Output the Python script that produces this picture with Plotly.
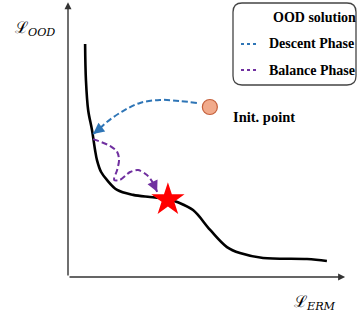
import plotly.graph_objects as go

# ---------------- data (schematic units: axes origin = (0,0), axis tips ~ (100, 101)) -------------
curve_x = [6.2, 6.5, 7.3, 8.7, 9.8, 10.5, 12.0, 14.1, 17.8, 23.6, 29.7, 36.2, 39.5, 45.3, 51.5, 57.6, 62.3, 70.7, 86.6, 93.8]
curve_y = [85.7, 72.4, 61.4, 54.0, 46.7, 43.0, 38.6, 35.7, 32.0, 30.2, 29.4, 28.7, 27.6, 24.6, 17.3, 11.0, 8.8, 7.0, 6.6, 5.9]

descent_x = [46.7, 40.6, 33.3, 26.1, 19.9, 14.1, 10.5, 9.1]
descent_y = [64.0, 64.7, 65.1, 64.0, 61.0, 57.0, 53.7, 52.6]

balance_x = [9.1, 15.2, 17.8, 18.5, 17.8, 16.7, 18.8, 22.5, 25.4, 28.6, 30.8, 32.3]
balance_y = [50.7, 48.2, 46.0, 43.0, 39.3, 35.7, 35.7, 38.6, 39.3, 37.5, 34.6, 31.3]

solution_x = [36.2]
solution_y = [28.4]

init_x = [51.4]
init_y = [62.5]

legend_labels = ["OOD solution", "Descent Phase", "Balance Phase"]
init_label = "Init. point"
y_label = "ℒ<sub><i>OOD</i></sub>"
x_label = "ℒ<sub><i>ERM</i></sub>"

# ---------------- layout constants ----------------
W, H = 357, 312
X0_PX, X1_PX = 68, 344
Y0_PX, Y1_PX = 277, 5
SX = (X1_PX - X0_PX) / 100.0
SY = (Y0_PX - Y1_PX) / 100.0
X_RANGE = [-X0_PX / SX, (W - X0_PX) / SX]
Y_RANGE = [-(H - Y0_PX) / SY, Y0_PX / SY]

BLUE = "#2E75B6"
PURPLE = "#7030A0"
SERIF = "Liberation Serif"


def px_to_data(px, py):
    return (px - X0_PX) / SX, (Y0_PX - py) / SY


def px_to_paper(px, py):
    return px / W, 1 - py / H


fig = go.Figure()

# main curve
fig.add_trace(go.Scatter(x=curve_x, y=curve_y, mode="lines",
                         line=dict(color="black", width=2.6, shape="spline", smoothing=1.0),
                         showlegend=False, hoverinfo="skip"))

# descent path
fig.add_trace(go.Scatter(x=descent_x, y=descent_y, mode="lines",
                         line=dict(color=BLUE, width=2, dash="6px,3px", shape="spline", smoothing=1.0),
                         showlegend=False, hoverinfo="skip"))

# balance path
fig.add_trace(go.Scatter(x=balance_x, y=balance_y, mode="lines",
                         line=dict(color=PURPLE, width=2, dash="6px,3px", shape="spline", smoothing=0.8),
                         showlegend=False, hoverinfo="skip"))

# init point
fig.add_trace(go.Scatter(x=init_x, y=init_y, mode="markers",
                         marker=dict(size=15, color="#F1AA8B", line=dict(color="#C5603B", width=1.2)),
                         showlegend=False, hoverinfo="skip"))

# OOD solution star
fig.add_trace(go.Scatter(x=solution_x, y=solution_y, mode="markers",
                         marker=dict(symbol="star", size=25, color="#FF0000", line=dict(width=0)),
                         showlegend=False, hoverinfo="skip"))

annotations = []


def arrow_head(xs, ys, color):
    dx = (xs[-1] - xs[-2]) * SX
    dy = -(ys[-1] - ys[-2]) * SY
    n = (dx * dx + dy * dy) ** 0.5
    annotations.append(dict(x=xs[-1], y=ys[-1], xref="x", yref="y",
                            ax=-dx / n * 9, ay=-dy / n * 9, axref="pixel", ayref="pixel",
                            showarrow=True, arrowhead=2, arrowsize=1.1, arrowwidth=2,
                            arrowcolor=color, text=""))


arrow_head(descent_x, descent_y, BLUE)
arrow_head(balance_x, balance_y, PURPLE)

# axes as arrows
AX_COLOR = "#333333"
annotations.append(dict(x=0, y=101, xref="x", yref="y", ax=0, ay=0, axref="x", ayref="y",
                        showarrow=True, arrowhead=2, arrowsize=1, arrowwidth=1.4,
                        arrowcolor=AX_COLOR, text=""))
annotations.append(dict(x=100.4, y=0, xref="x", yref="y", ax=0, ay=0, axref="x", ayref="y",
                        showarrow=True, arrowhead=2, arrowsize=1, arrowwidth=1.4,
                        arrowcolor=AX_COLOR, text=""))

# axis labels
lx, ly = px_to_paper(13, 28)
annotations.append(dict(x=lx, y=ly, xref="paper", yref="paper", xanchor="left", yanchor="middle",
                        text=y_label, showarrow=False,
                        font=dict(family="DejaVu Serif", size=16, color="black")))
lx, ly = px_to_paper(292, 302)
annotations.append(dict(x=lx, y=ly, xref="paper", yref="paper", xanchor="left", yanchor="middle",
                        text=x_label, showarrow=False,
                        font=dict(family="DejaVu Serif", size=16, color="black")))

# init point label
ix, iy = px_to_paper(231, 117)
annotations.append(dict(x=ix, y=iy, xref="paper", yref="paper", xanchor="left", yanchor="middle",
                        text="<b>" + init_label + "</b>", showarrow=False,
                        font=dict(family=SERIF, size=14.5, color="black")))

# ---------------- manual legend ----------------
shapes = []
bx0, by0, bx1, by1, r = 233, 3, 356, 85, 9


def P(px, py):
    x, y = px_to_paper(px, py)
    return f"{x:.5f},{y:.5f}"


path = (f"M {P(bx0 + r, by0)} L {P(bx1 - r, by0)} Q {P(bx1, by0)} {P(bx1, by0 + r)} "
        f"L {P(bx1, by1 - r)} Q {P(bx1, by1)} {P(bx1 - r, by1)} "
        f"L {P(bx0 + r, by1)} Q {P(bx0, by1)} {P(bx0, by1 - r)} "
        f"L {P(bx0, by0 + r)} Q {P(bx0, by0)} {P(bx0 + r, by0)} Z")
shapes.append(dict(type="path", xref="paper", yref="paper", path=path,
                   line=dict(color="#444444", width=1.3), fillcolor="white", layer="above"))

row_y = [17, 44, 70]
for py, color in zip(row_y[1:], [BLUE, PURPLE]):
    x0, y0 = px_to_paper(241, py)
    x1, _ = px_to_paper(258, py)
    shapes.append(dict(type="line", xref="paper", yref="paper", x0=x0, x1=x1, y0=y0, y1=y0,
                       line=dict(color=color, width=1.8, dash="dot"), layer="above"))

text_x = [271, 267, 267]
for lab, py, tx in zip(legend_labels, row_y, text_x):
    x, y = px_to_paper(tx, py)
    annotations.append(dict(x=x, y=y, xref="paper", yref="paper", xanchor="left", yanchor="middle",
                            text="<b>" + lab + "</b>", showarrow=False,
                            font=dict(family=SERIF, size=14, color="black")))

sx, sy = px_to_data(249, 17)
fig.add_trace(go.Scatter(x=[sx], y=[sy], mode="markers",
                         marker=dict(symbol="star", size=17, color="#FF0000", line=dict(width=0)),
                         showlegend=False, hoverinfo="skip"))

fig.update_layout(
    width=W, height=H, autosize=False,
    margin=dict(l=0, r=0, t=0, b=0, pad=0),
    paper_bgcolor="white", plot_bgcolor="white",
    xaxis=dict(range=X_RANGE, visible=False, fixedrange=True),
    yaxis=dict(range=Y_RANGE, visible=False, fixedrange=True),
    shapes=shapes,
    annotations=annotations,
    showlegend=False,
)

fig.write_html("out.html", config={"displayModeBar": False},
               post_script="document.body.style.margin='0';document.body.style.padding='0';")
